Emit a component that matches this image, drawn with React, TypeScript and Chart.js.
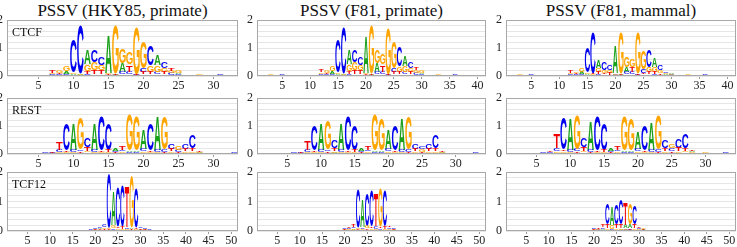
import React, { useEffect, useRef } from 'react';
import { Chart, registerables } from 'chart.js';

Chart.register(...registerables);

// ---------- labels ----------
const LETTERS = ['A', 'C', 'G', 'T'];
const LETTER_COLORS = ['#1aa01a', '#0000f0', '#ffa500', '#f00000'];
const COLUMN_TITLES = ['PSSV (HKY85, primate)', 'PSSV (F81, primate)', 'PSSV (F81, mammal)'];
const ROW_LABELS = ['CTCF', 'REST', 'TCF12'];
const X_LABEL_STEP = 5;
const Y_MAX = 2;
const Y_GRID_STEP = 0.2;

// ---------- data (information content, bits) ----------
// CTCF, HKY85 primate: 33 positions, values listed from position 3
const CTCF_HKY_N = 33;
const CTCF_HKY_START = 3;
const CTCF_HKY_A = [.01,0,0,.01, .03,.03,.10,.05,.03,.50,.08,.07,1.35,.03,.30,.08,.02,.06,.07,.35,.06,.05,.05, .01,0,.01,0,.01,.01,0,.01];
const CTCF_HKY_C = [.01,0,.01,.01, .04,.03,.04,1.18,1.72,.08,.40,.30,.03,.02,.08,.08,.02,.15,.70,.08,.22,.07,.04, .01,0,.01,.01,0,.03,0,.01];
const CTCF_HKY_G = [.01,0,.01,.01, .05,.07,.16,.05,.03,.25,.30,.18,.05,1.75,.50,.40,1.70,.95,.22,.25,.15,.07,.07, .01,.01,.04,0,.01,.01,.01,0];
const CTCF_HKY_T = [0,0,0,.01, .09,.03,.03,.03,.02,.10,.12,.14,.03,.02,.07,.25,.02,.07,.08,.07,.08,.08,.03, .01,0,.01,0,0,.01,0,0];

// CTCF, F81 primate: 41 positions, from position 2
const CTCF_F81P_N = 41;
const CTCF_F81P_START = 2;
const CTCF_F81P_A = [0,.01,0,.01,0,0,.01,0,0,.01, .03,.03,.10,.05,.03,.50,.08,.07,1.30,.03,.30,.08,.02,.06,.07,.36,.06,.05,.05, .01,0,.01,0,0,.01,0,.01,0,0];
const CTCF_F81P_C = [0,.01,0,.02,0,0,0,.01,0,.01, .05,.03,.04,1.16,1.66,.08,.40,.28,.03,.02,.08,.08,.02,.13,.72,.08,.25,.07,.04, .01,0,.01,0,0,.03,0,.02,0,0];
const CTCF_F81P_G = [.01,.03,0,.01,0,.01,0,0,.01,.01, .05,.07,.18,.05,.03,.25,.30,.18,.05,1.72,.48,.38,1.66,.93,.20,.22,.14,.08,.07, .01,.01,.04,.01,0,.01,0,0,0,.01];
const CTCF_F81P_T = [0,0,0,.01,0,0,0,0,0,.01, .10,.03,.03,.03,.02,.10,.12,.14,.03,.02,.07,.25,.02,.07,.08,.07,.08,.08,.03, 0,0,.01,0,0,.01,0,0,0,0];

// CTCF, F81 mammal: 41 positions, from position 2
const CTCF_F81M_N = 41;
const CTCF_F81M_START = 2;
const CTCF_F81M_A = [0,.01,0,.01,0,0,.01,0,0,.01, .03,.03,.08,.04,.03,.28,.06,.05,.95,.03,.20,.07,.02,.06,.06,.32,.05,.04,.04, .01,0,.01,0,0,.01,0,.01,0,0];
const CTCF_F81M_C = [0,.01,0,.02,0,0,0,.01,0,.01, .04,.03,.04,.87,1.46,.07,.26,.20,.03,.02,.07,.07,.02,.12,.62,.07,.20,.06,.03, .01,0,.01,0,0,.03,0,.02,0,0];
const CTCF_F81M_G = [.01,.03,0,.01,0,.01,0,0,.01,.01, .04,.06,.13,.05,.03,.15,.10,.08,.05,1.47,.37,.30,1.47,.66,.17,.16,.09,.05,.03, .01,.01,.04,.01,0,.01,0,0,0,.01];
const CTCF_F81M_T = [0,0,0,.01,0,0,0,0,0,.01, .09,.03,.03,.03,.03,.07,.06,.07,.02,.03,.06,.19,.04,.06,.08,.08,.06,.03,.02, 0,0,.01,0,0,.01,0,0,0,0];

// REST, HKY85 primate: 33 positions, from position 5
const REST_HKY_N = 33;
const REST_HKY_START = 5;
const REST_HKY_A = [.01,.01,.02,.03,.03,.92,.04,.06,.92,.03,.03,.09,.04,.06,.06,.68,.04,1.18,.03,.04,.03,.04,.05,.03,.01,.01,.01,0,.01];
const REST_HKY_C = [.01,.02,.02,.07,.93,.07,.06,.32,.07,1.20,.92,.05,.06,.04,.04,.08,.92,.07,.07,.18,.07,.20,.46,.02,.01,0,.01,.01,.03];
const REST_HKY_G = [0,.01,.01,.04,.04,.04,1.12,.06,.04,.04,.04,.03,.05,1.28,1.20,.06,.04,.05,1.18,.05,.12,.05,.05,.02,.01,.01,0,0,.01];
const REST_HKY_T = [.01,.01,.02,.28,.06,.03,.05,.12,.03,.06,.07,.04,.12,.03,.03,.04,.06,.03,.05,.08,.05,.10,.10,.03,.01,.01,.01,0,0];

// REST, F81 primate: 34 positions, from position 5
const REST_F81P_N = 34;
const REST_F81P_START = 5;
const REST_F81P_A = [.01,.01,.02,.03,.03,.90,.04,.06,.92,.03,.03,.08,.04,.06,.06,.68,.04,1.12,.03,.04,.03,.04,.05,.03,.01,.01,.01,0,.01,0];
const REST_F81P_C = [.01,.02,.02,.07,.91,.07,.06,.28,.07,1.20,.90,.05,.06,.04,.04,.08,.90,.07,.07,.16,.10,.20,.46,.02,.01,0,.01,.01,.03,0];
const REST_F81P_G = [0,.01,.01,.04,.04,.04,1.03,.05,.04,.04,.04,.03,.05,1.28,1.14,.06,.04,.05,1.18,.05,.09,.05,.05,.02,.01,.01,0,0,.01,.01];
const REST_F81P_T = [.01,.01,.02,.31,.06,.03,.05,.11,.03,.06,.07,.04,.12,.03,.03,.04,.06,.03,.05,.08,.05,.10,.10,.03,.01,.01,.01,0,0,0];

// REST, F81 mammal: 34 positions, from position 5
const REST_F81M_N = 34;
const REST_F81M_START = 5;
const REST_F81M_A = [.01,.01,.02,.04,.04,1.12,.05,.06,1.00,.03,.03,.10,.04,.05,.06,.62,.04,.95,.03,.04,.04,.04,.06,.04,.01,.01,0,0,.01,0];
const REST_F81M_C = [.01,.02,.03,.10,1.12,.08,.07,.32,.07,1.20,.95,.05,.06,.04,.04,.08,.90,.07,.08,.30,.10,.32,.52,.03,.01,.01,.01,0,.04,0];
const REST_F81M_G = [0,.01,.01,.06,.05,.04,1.22,.06,.03,.04,.04,.03,.05,1.24,1.14,.06,.04,.04,1.23,.06,.15,.06,.06,.03,.01,.02,0,0,.01,0];
const REST_F81M_T = [.01,.01,.03,.50,.06,.03,.05,.12,.03,.06,.07,.04,.15,.03,.03,.04,.06,.03,.05,.10,.06,.12,.10,.05,.01,.01,.01,0,0,.01];

// TCF12: 51 positions, from position 19
const TCF_HKY_N = 51;
const TCF_HKY_START = 19;
const TCF_HKY_A = [.01,.02,.04,.03,.03,1.15,.04,.03,.04,.04,.03,.03,.02,.01];
const TCF_HKY_C = [.02,.03,.06,.08,1.85,.06,1.32,1.38,.05,.03,1.35,.06,.05,.02];
const TCF_HKY_G = [.01,.02,.03,.05,.04,.08,.06,.05,.04,1.72,.04,.02,.04,.01];
const TCF_HKY_T = [.01,.02,.03,.04,.03,.05,.06,.08,1.38,.03,.06,.04,.02,.01];

const TCF_F81P_N = 51;
const TCF_F81P_START = 19;
const TCF_F81P_A = [.01,.02,.03,.05,.03,.92,.04,.03,.04,.05,.03,.03,.02,.01];
const TCF_F81P_C = [.01,.03,.04,.06,1.30,.06,1.12,1.18,.08,.05,1.18,.05,.04,.01];
const TCF_F81P_G = [.01,.02,.03,.04,.05,.04,.07,.06,.04,1.27,.05,.04,.03,.01];
const TCF_F81P_T = [.01,.02,.04,.07,.04,.03,.05,.06,1.08,.05,.07,.06,.02,.01];

const TCF_F81M_N = 51;
const TCF_F81M_START = 19;
const TCF_F81M_A = [.01,.02,.02,.04,.04,.60,.04,.05,.12,.13,.05,.03,.03,.01];
const TCF_F81M_C = [.01,.03,.02,.05,.70,.05,.68,.83,.06,.04,.62,.04,.02,.01];
const TCF_F81M_G = [.01,.02,.03,.03,.06,.12,.05,.04,.04,.70,.05,.03,.05,.01];
const TCF_F81M_T = [.01,.02,.03,.08,.13,.02,.13,.13,.74,.06,.13,.05,.02,.01];

type Panel = { n: number; start: number; series: number[][] };

const PANELS: Panel[][] = [
  [
    { n: CTCF_HKY_N, start: CTCF_HKY_START, series: [CTCF_HKY_A, CTCF_HKY_C, CTCF_HKY_G, CTCF_HKY_T] },
    { n: CTCF_F81P_N, start: CTCF_F81P_START, series: [CTCF_F81P_A, CTCF_F81P_C, CTCF_F81P_G, CTCF_F81P_T] },
    { n: CTCF_F81M_N, start: CTCF_F81M_START, series: [CTCF_F81M_A, CTCF_F81M_C, CTCF_F81M_G, CTCF_F81M_T] },
  ],
  [
    { n: REST_HKY_N, start: REST_HKY_START, series: [REST_HKY_A, REST_HKY_C, REST_HKY_G, REST_HKY_T] },
    { n: REST_F81P_N, start: REST_F81P_START, series: [REST_F81P_A, REST_F81P_C, REST_F81P_G, REST_F81P_T] },
    { n: REST_F81M_N, start: REST_F81M_START, series: [REST_F81M_A, REST_F81M_C, REST_F81M_G, REST_F81M_T] },
  ],
  [
    { n: TCF_HKY_N, start: TCF_HKY_START, series: [TCF_HKY_A, TCF_HKY_C, TCF_HKY_G, TCF_HKY_T] },
    { n: TCF_F81P_N, start: TCF_F81P_START, series: [TCF_F81P_A, TCF_F81P_C, TCF_F81P_G, TCF_F81P_T] },
    { n: TCF_F81M_N, start: TCF_F81M_START, series: [TCF_F81M_A, TCF_F81M_C, TCF_F81M_G, TCF_F81M_T] },
  ],
];

// ---------- layout ----------
const COL_BOX_LEFT = [7, 257, 506];
const COL_BOX_RIGHT = [238, 486, 736];
const ROW_BOX_TOP = [20, 98, 172];
const ROW_BOX_BOTTOM = [76, 154, 231];
const Y_AXIS_W = 24;
const PAD_TOP = 14;
const PAD_RIGHT = 2;
const X_AXIS_H = 20;

const SERIF = '"Liberation Serif", "Times New Roman", serif';

function buildStacks(p: Panel) {
  const ds: [number, number][][] = LETTERS.map(() => []);
  for (let pos = 1; pos <= p.n; pos++) {
    const k = pos - p.start;
    const vals = p.series.map((s) => (k >= 0 && k < s.length ? s[k] : 0));
    const order = [0, 1, 2, 3].sort((a, b) => vals[a] - vals[b]);
    let base = 0;
    for (const li of order) {
      ds[li][pos - 1] = [base, base + vals[li]];
      base += vals[li];
    }
  }
  return ds;
}

const logoPlugin = {
  id: 'logoLetters',
  afterDatasetsDraw(chart: any) {
    const ctx: CanvasRenderingContext2D = chart.ctx;
    const a = chart.chartArea;
    ctx.save();
    ctx.beginPath();
    ctx.rect(a.left, a.top, a.right - a.left, a.bottom - a.top);
    ctx.clip();
    ctx.font = 'bold 100px "Liberation Sans", Arial, sans-serif';
    ctx.textAlign = 'left';
    ctx.textBaseline = 'alphabetic';
    chart.data.datasets.forEach((_ds: any, di: number) => {
      const meta = chart.getDatasetMeta(di);
      const letter = LETTERS[di];
      const m = ctx.measureText(letter);
      const gw = m.actualBoundingBoxLeft + m.actualBoundingBoxRight;
      const gh = m.actualBoundingBoxAscent + m.actualBoundingBoxDescent;
      meta.data.forEach((el: any) => {
        const { x, y, base, width } = el.getProps(['x', 'y', 'base', 'width'], true);
        const top = Math.min(y, base);
        const h = Math.abs(base - y);
        if (h < 0.3) return;
        ctx.save();
        ctx.translate(x - width / 2, top);
        ctx.scale(width / gw, h / gh);
        ctx.fillStyle = LETTER_COLORS[di];
        ctx.fillText(letter, m.actualBoundingBoxLeft, m.actualBoundingBoxAscent);
        ctx.restore();
      });
    });
    ctx.restore();
  },
};

function LogoPanel({ row, col }: { row: number; col: number }) {
  const ref = useRef<HTMLCanvasElement>(null);
  const boxW = COL_BOX_RIGHT[col] - COL_BOX_LEFT[col];
  const boxH = ROW_BOX_BOTTOM[row] - ROW_BOX_TOP[row];
  const w = Y_AXIS_W + boxW + PAD_RIGHT;
  const h = PAD_TOP + boxH + X_AXIS_H;
  const left = COL_BOX_LEFT[col] - Y_AXIS_W;
  const top = ROW_BOX_TOP[row] - PAD_TOP;

  useEffect(() => {
    const panel = PANELS[row][col];
    const stacks = buildStacks(panel);
    const labels = Array.from({ length: panel.n }, (_, i) => String(i + 1));
    const rowLabel = col === 0 ? ROW_LABELS[row] : '';
    const frame = {
      id: 'frame',
      afterDraw(chart: any) {
        const ctx: CanvasRenderingContext2D = chart.ctx;
        const a = chart.chartArea;
        ctx.save();
        ctx.strokeStyle = '#a8a8a8';
        ctx.lineWidth = 1;
        ctx.strokeRect(Math.round(a.left) + 0.5, Math.round(a.top) + 0.5, Math.round(a.right - a.left) - 1, Math.round(a.bottom - a.top) - 1);
        if (rowLabel) {
          ctx.fillStyle = '#111';
          ctx.font = `12px ${SERIF}`;
          ctx.textBaseline = 'middle';
          ctx.textAlign = 'left';
          ctx.fillText(rowLabel, a.left + 5, a.top + 13);
        }
        ctx.restore();
      },
    };
    const chart = new Chart(ref.current as HTMLCanvasElement, {
      type: 'bar',
      data: {
        labels,
        datasets: LETTERS.map((L, i) => ({
          label: L,
          data: stacks[i] as any,
          backgroundColor: 'rgba(0,0,0,0)',
          borderWidth: 0,
          grouped: false,
          barPercentage: 1,
          categoryPercentage: 0.94,
        })),
      },
      options: {
        animation: false,
        responsive: false,
        maintainAspectRatio: false,
        layout: { padding: { top: PAD_TOP, right: PAD_RIGHT, left: 0, bottom: 0 } },
        plugins: { legend: { display: false }, tooltip: { enabled: false } },
        scales: {
          x: {
            offset: true,
            border: { display: false },
            grid: {
              offset: false,
              drawOnChartArea: false,
              drawTicks: true,
              tickLength: 3,
              color: (c: any) => ((c.index + 1) % X_LABEL_STEP === 0 ? '#999' : 'rgba(0,0,0,0)'),
              tickColor: (c: any) => ((c.index + 1) % X_LABEL_STEP === 0 ? '#999' : 'rgba(0,0,0,0)'),
            },
            ticks: {
              autoSkip: false,
              maxRotation: 0,
              padding: 0,
              color: '#222',
              font: { family: SERIF, size: 12 },
              callback: (_v: any, i: number) => ((i + 1) % X_LABEL_STEP === 0 ? String(i + 1) : ''),
            },
            afterFit: (s: any) => {
              s.height = X_AXIS_H;
            },
          },
          y: {
            min: 0,
            max: Y_MAX,
            border: { display: false },
            grid: { color: '#e6e6e6', drawTicks: false },
            ticks: {
              stepSize: Y_GRID_STEP,
              autoSkip: false,
              padding: 4,
              color: '#222',
              font: { family: SERIF, size: 12 },
              callback: (v: any) => {
                const n = Number(v);
                return Math.abs(n - Math.round(n)) < 1e-6 ? String(Math.round(n)) : '';
              },
            },
            afterFit: (s: any) => {
              s.width = Y_AXIS_W;
            },
          },
        },
      },
      plugins: [logoPlugin, frame],
    } as any);
    return () => chart.destroy();
  }, [row, col]);

  return (
    <canvas
      ref={ref}
      width={w}
      height={h}
      style={{ position: 'absolute', left, top, width: w, height: h }}
    />
  );
}

export default function App() {
  return (
    <div
      style={{
        position: 'fixed',
        left: 0,
        top: 0,
        width: 737,
        height: 247,
        overflow: 'hidden',
        background: '#fff',
      }}
    >
      {COLUMN_TITLES.map((t, c) => (
        <div
          key={t}
          style={{
            position: 'absolute',
            left: COL_BOX_LEFT[c],
            width: COL_BOX_RIGHT[c] - COL_BOX_LEFT[c],
            top: 2,
            textAlign: 'center',
            fontFamily: SERIF,
            fontSize: 17,
            lineHeight: '17px',
            color: '#111',
            whiteSpace: 'nowrap',
          }}
        >
          {t}
        </div>
      ))}
      {[0, 1, 2].map((r) => [0, 1, 2].map((c) => <LogoPanel key={`${r}-${c}`} row={r} col={c} />))}
    </div>
  );
}
